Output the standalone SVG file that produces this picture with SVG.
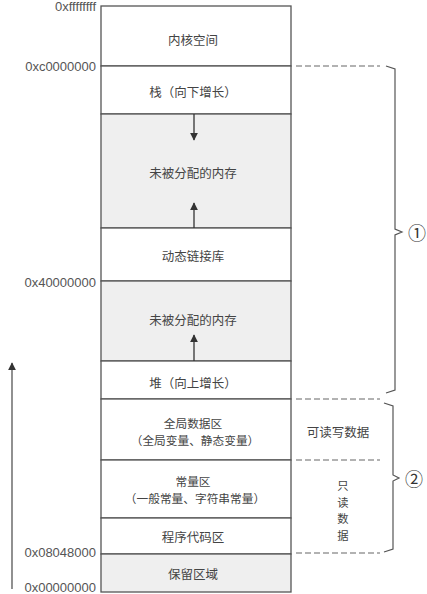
<svg xmlns="http://www.w3.org/2000/svg" width="427" height="594" viewBox="0 0 427 594">
<style>
.box{stroke:#555;stroke-width:1.3;}
.w{fill:#fff;}
.g{fill:#efefef;}
.t{font-family:"Noto Sans CJK SC","Liberation Sans",sans-serif;font-size:12.5px;fill:#444;text-anchor:middle;dominant-baseline:central;}
.s{font-size:11.7px;}
.v{font-size:11.3px;}
.h{font-family:"Liberation Sans",Arial,sans-serif;font-size:13px;fill:#555;text-anchor:end;dominant-baseline:central;}
.d{stroke:#666;stroke-width:1.2;stroke-dasharray:6,3;fill:none;}
.br{stroke:#555;stroke-width:1.2;fill:none;}
.ar{stroke:#333;stroke-width:1.3;fill:none;}
.c{font-family:"Noto Sans CJK SC","DejaVu Sans",sans-serif;font-size:18px;fill:#333;text-anchor:middle;dominant-baseline:central;}
</style>
<defs>
<marker id="ah" viewBox="0 0 10 10" refX="9" refY="5" markerWidth="8" markerHeight="8" markerUnits="userSpaceOnUse" orient="auto">
<path d="M0,0 L10,5 L0,10 z" fill="#333"/>
</marker>
</defs>
<rect width="427" height="594" fill="#fff"/>

<g id="kernel"><rect class="box w" x="101" y="6" width="190" height="60"/><text class="t" x="193" y="39">内核空间</text></g>
<g id="stack"><rect class="box w" x="101" y="66" width="190" height="48"/><text class="t" x="193" y="91">栈（向下增长）</text></g>
<g id="free1"><rect class="box g" x="101" y="114" width="190" height="114"/><text class="t" x="193" y="172">未被分配的内存</text></g>
<g id="dynlib"><rect class="box w" x="101" y="228" width="190" height="53"/><text class="t" x="193" y="255">动态链接库</text></g>
<g id="free2"><rect class="box g" x="101" y="281" width="190" height="80"/><text class="t" x="193" y="319">未被分配的内存</text></g>
<g id="heap"><rect class="box w" x="101" y="361" width="190" height="38"/><text class="t" x="193" y="382">堆（向上增长）</text></g>
<g id="global"><rect class="box w" x="101" y="399" width="190" height="61"/><text class="t s" x="193" y="422">全局数据区</text><text class="t s" x="195" y="439">（全局变量、静态变量）</text></g>
<g id="const"><rect class="box w" x="101" y="460" width="190" height="58"/><text class="t s" x="193" y="480">常量区</text><text class="t s" x="195" y="497">（一般常量、字符串常量）</text></g>
<g id="code"><rect class="box w" x="101" y="518" width="190" height="36"/><text class="t" x="193" y="536">程序代码区</text></g>
<g id="reserved"><rect class="box g" x="101" y="554" width="190" height="38"/><text class="t" x="193" y="573">保留区域</text></g>

<g id="addresses">
<text class="h" x="96" y="6">0xffffffff</text>
<text class="h" x="96" y="66">0xc0000000</text>
<text class="h" x="96" y="282">0x40000000</text>
<text class="h" x="96" y="552">0x08048000</text>
<text class="h" x="96" y="587">0x00000000</text>
</g>

<g id="connectors">
<line class="ar" x1="194" y1="114" x2="194" y2="140" marker-end="url(#ah)"/>
<line class="ar" x1="194" y1="228" x2="194" y2="203" marker-end="url(#ah)"/>
<line class="ar" x1="194" y1="361" x2="194" y2="335" marker-end="url(#ah)"/>
<line x1="12" y1="589" x2="12" y2="363" stroke="#555" stroke-width="1.3" marker-end="url(#ah)"/>
<line class="d" x1="296" y1="66" x2="380" y2="66"/>
<line class="d" x1="296" y1="399" x2="380" y2="399"/>
<line class="d" x1="296" y1="460" x2="380" y2="460"/>
<line class="d" x1="296" y1="553" x2="380" y2="553"/>
<path class="br" d="M386,66 L395,69 L395,229 L402,232 L395,235 L395,390 L386,393"/>
<path class="br" d="M384,403 L393,406 L393,475 L399,478 L393,481 L393,549 L384,552"/>
</g>

<g id="labels">
<text class="c" x="417" y="232">①</text>
<text class="c" x="414" y="478">②</text>
<text class="t" x="338" y="431">可读写数据</text>
<text class="t v" x="343" y="485">只</text>
<text class="t v" x="343" y="501.5">读</text>
<text class="t v" x="343" y="518">数</text>
<text class="t v" x="343" y="534.5">据</text>
</g>
</svg>
